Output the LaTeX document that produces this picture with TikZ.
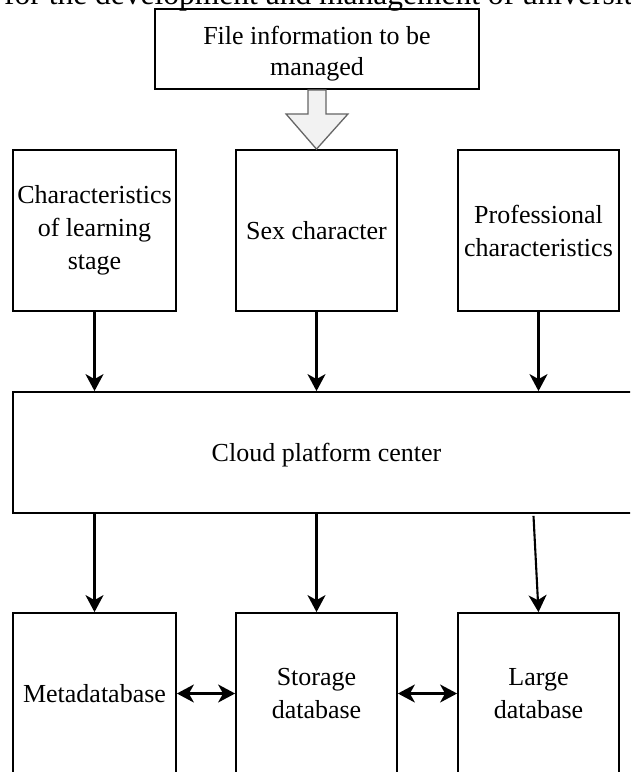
\documentclass[tikz,border=0pt]{standalone}
\usepackage{fontspec}
\setmainfont{Liberation Serif}
\usetikzlibrary{arrows.meta,calc}
\tikzset{
  box/.style={draw=black, line width=1.8pt, rectangle, inner sep=0pt, align=center,
    font=\fontsize{26}{33}\selectfont},
  boxtext/.style={inner sep=0pt, align=center, font=\fontsize{26}{31}\selectfont},
  arr/.style={line width=2.1pt, -{Stealth[length=17pt,width=18pt,inset=5pt]}},
  darr/.style={line width=2.1pt, {Stealth[length=17pt,width=18pt,inset=5pt]}-{Stealth[length=17pt,width=18pt,inset=5pt]}},
  blockarrow/.style={draw=black!60, fill=black!5, line width=1.3pt, line join=miter}
}
\begin{document}
\begin{tikzpicture}[x=1pt,y=-1pt]
\useasboundingbox (0,0) rectangle (630,772);
\clip (0,0) rectangle (630,772);
\fill[white] (0,0) rectangle (630,772);
% cut-off caption line at the very top
\node[anchor=base west, inner sep=0pt, font=\fontsize{31.5}{36}\selectfont] (cap) at (4,4)
  {for the development and management of university};
% top box
\node[box, minimum width=324pt, minimum height=80pt] (top) at (317,49) {};
\node[boxtext] (toptext) at ([yshift=-5pt]top.center) {File information to be\\managed};
% first row
\node[box, minimum width=163pt, minimum height=161pt] (b1) at (94.5,230.5)
  {Characteristics\\of learning\\stage};
\node[box, minimum width=161pt, minimum height=161pt] (b2) at (316.5,230.5)
  {Sex character};
\node[box, minimum width=161pt, minimum height=161pt] (b3) at (538.5,230.5)
  {Professional\\characteristics};
% cloud platform
\node[box, minimum width=627pt, minimum height=121pt] (cloud) at (326.5,452.5) {};
\node[boxtext] (cloudtext) at ([yshift=-3pt]cloud.center) {Cloud platform center};
% bottom row
\node[box, minimum width=163pt, minimum height=161pt] (d1) at (94.5,693.5)
  {Metadatabase};
\node[box, minimum width=161pt, minimum height=161pt] (d2) at (316.5,693.5)
  {Storage\\database};
\node[box, minimum width=161pt, minimum height=161pt] (d3) at (538.5,693.5)
  {Large\\database};
% block arrow from top box to the middle box
\draw[blockarrow]
  ($(top.south)+(-9,0)$) -- ($(top.south)+(-9,24)$) -- ($(top.south)+(-31,24)$)
  -- (b2.north) -- ($(top.south)+(31,24)$) -- ($(top.south)+(9,24)$)
  -- ($(top.south)+(9,0)$) -- cycle;
% arrows into the cloud platform
\draw[arr] (b1.south) -- (b1.south |- cloud.north);
\draw[arr] (b2.south) -- (b2.south |- cloud.north);
\draw[arr] (b3.south) -- (b3.south |- cloud.north);
% arrows out of the cloud platform
\draw[arr] (d1.north |- cloud.south) -- (d1.north);
\draw[arr] (d2.north |- cloud.south) -- (d2.north);
\draw[arr] ([xshift=-5pt,yshift=-2pt]d3.north |- cloud.south) -- (d3.north);
% two-way arrows in the bottom row
\draw[darr] (d1.east) -- (d2.west);
\draw[darr] (d2.east) -- (d3.west);
\end{tikzpicture}
\end{document}
